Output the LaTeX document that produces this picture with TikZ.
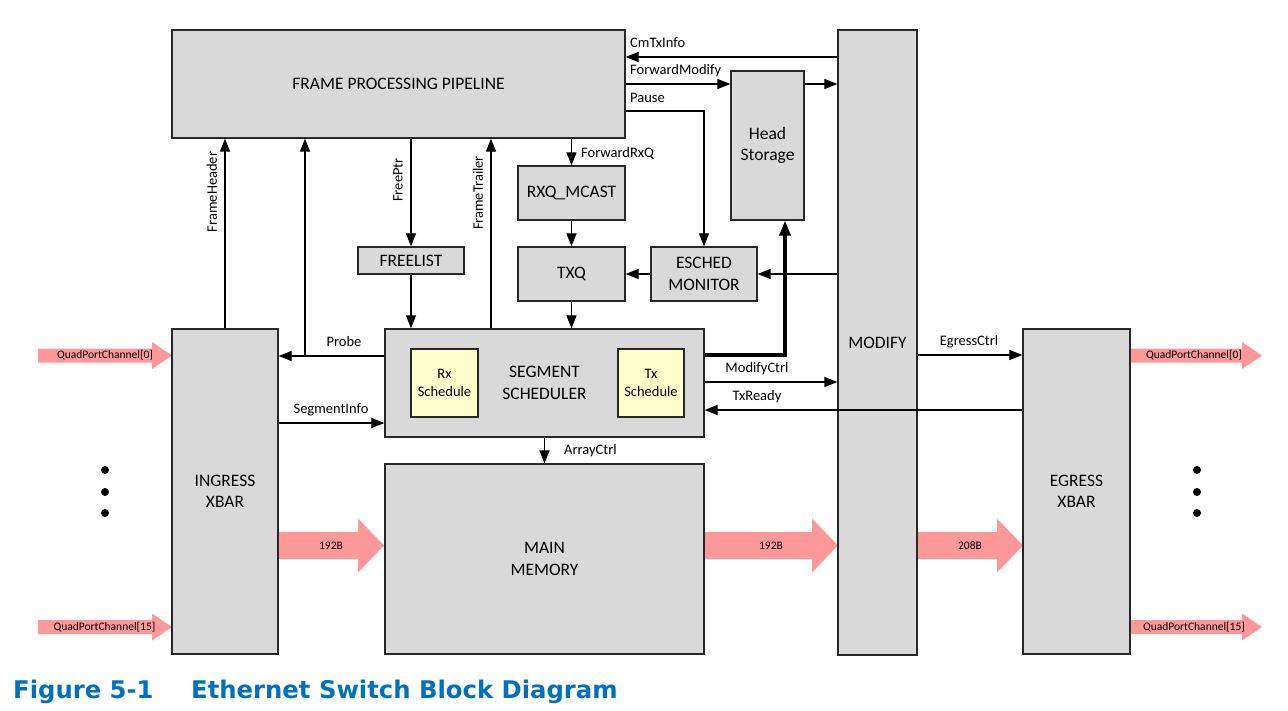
\documentclass[tikz,border=0pt]{standalone}
\usepackage{fontspec}
\setmainfont{Carlito}
\newfontfamily\capfont{DejaVu Sans}
\usetikzlibrary{arrows.meta}
\definecolor{boxgray}{RGB}{217,217,217}
\definecolor{boxyel}{RGB}{255,255,204}
\definecolor{pinkar}{RGB}{255,153,153}
\definecolor{capblue}{RGB}{0,112,192}
\definecolor{edgec}{RGB}{40,40,40}
\newcommand\fatarr[6]{% x start, head start, tip, y, body half, head half
  \fill[pinkar] (#1,#4-#5) -- (#2,#4-#5) -- (#2,#4-#6) -- (#3,#4) -- (#2,#4+#6) -- (#2,#4+#5) -- (#1,#4+#5) -- cycle;}
\begin{document}
\begin{tikzpicture}[x=1pt,y=-1pt,
  box/.style={draw=edgec, line width=1.2pt, fill=boxgray, inner sep=0pt, align=center, font=\fontsize{17.5}{21.5}\selectfont},
  ybox/.style={box, fill=boxyel, font=\fontsize{14.5}{17.5}\selectfont},
  conn/.style={line width=1.1pt, -{Triangle[length=13pt,width=10pt]}},
  thickconn/.style={line width=3.2pt, -{Triangle[length=15pt,width=11pt]}},
  lbl/.style={font=\fontsize{14.5}{17}\selectfont, inner sep=0pt},
  plbl/.style={font=\fontsize{11.5}{13}\selectfont, inner sep=0pt},
  dotn/.style={circle, fill=black, inner sep=0pt, minimum size=8pt}]
\useasboundingbox (0,0) rectangle (1288,710);

% pink data arrows
\fatarr{38}{152}{172}{355.5}{7}{13.5}
\fatarr{38}{152}{172}{627}{7}{13.5}
\fatarr{1130}{1242}{1262}{355.5}{7}{13.5}
\fatarr{1130}{1242}{1262}{627}{7}{13.5}
\fatarr{278}{358}{384}{545.5}{13.5}{27}
\fatarr{705}{812}{838}{545.5}{13.5}{27}
\fatarr{917}{997}{1023}{545.5}{13.5}{27}
\node[plbl] (qi0) at (105,355.5) {QuadPortChannel[0]};
\node[plbl] (qi15) at (104.5,627) {QuadPortChannel[15]};
\node[plbl] (qo0) at (1194,355.5) {QuadPortChannel[0]};
\node[plbl] (qo15) at (1194,627) {QuadPortChannel[15]};
\node[plbl] (b1) at (331,545.5) {192B};
\node[plbl] (b2) at (771,545.5) {192B};
\node[plbl] (b3) at (970,545.5) {208B};

% boxes
\node[box, minimum width=453pt, minimum height=108pt] (fpp) at (398.5,84) {FRAME PROCESSING PIPELINE};
\node[box, minimum width=79pt, minimum height=625pt] (modify) at (877.5,342.5) {MODIFY};
\node[box, minimum width=73pt, minimum height=149pt] (head) at (767.5,145.5) {Head\\Storage};
\node[box, minimum width=107pt, minimum height=54pt] (rxq) at (571.5,193) {RXQ\_MCAST};
\node[box, minimum width=107pt, minimum height=54pt] (txq) at (571.5,274) {TXQ};
\node[box, minimum width=106pt, minimum height=54pt] (esched) at (704,274) {ESCHED\\MONITOR};
\node[box, minimum width=106pt, minimum height=27pt] (freelist) at (411,260.5) {FREELIST};
\node[box, minimum width=106pt, minimum height=325pt] (ingress) at (225,491.5) {INGRESS\\XBAR};
\node[box, minimum width=319pt, minimum height=108pt] (ss) at (544.5,383) {SEGMENT\\SCHEDULER};
\node[ybox, minimum width=67pt, minimum height=68pt] (rx) at (444.5,383) {Rx\\Schedule};
\node[ybox, minimum width=66pt, minimum height=68pt] (tx) at (651,383) {Tx\\Schedule};
\node[box, minimum width=319pt, minimum height=190pt] (mm) at (544.5,559) {MAIN\\MEMORY};
\node[box, minimum width=107pt, minimum height=325pt] (egress) at (1076.5,491.5) {EGRESS\\XBAR};

% connectors
\draw[conn] (modify.west |- 0,57) -- (fpp.east |- 0,57);
\node[lbl, anchor=west] (lcm) at (630,43) {CmTxInfo};
\draw[conn] (fpp.east |- 0,84) -- (head.west |- 0,84);
\node[lbl, anchor=west] (lfm) at (630,71) {ForwardModify};
\draw[conn] (head.east |- 0,84) -- (modify.west |- 0,84);
\draw[conn] (fpp.east |- 0,111) -| (esched.north);
\node[lbl, anchor=west] (lpa) at (630,98) {Pause};
\draw[conn] (rxq.north |- fpp.south) -- (rxq.north);
\node[lbl, anchor=west] (lfr) at (581,153) {ForwardRxQ};
\draw[conn] (rxq.south) -- (txq.north);
\draw[conn] (txq.south) -- (txq.south |- ss.north);
\draw[conn] (esched.west) -- (txq.east);
\draw[conn] (modify.west |- esched.east) -- (esched.east);
\draw[conn] (freelist.north |- fpp.south) -- (freelist.north);
\node[lbl, rotate=90] (lfp) at (398,180) {FreePtr};
\draw[conn] (freelist.south) -- (freelist.south |- ss.north);
\draw[conn] (ss.north -| 491,0) -- (fpp.south -| 491,0);
\node[lbl, rotate=90] (lft) at (478,193) {FrameTrailer};
\draw[conn] (ingress.north) -- (ingress.north |- fpp.south);
\node[lbl, rotate=90] (lfh) at (212,192) {FrameHeader};
\draw[conn] (ss.west |- 0,356) -- (ingress.east |- 0,356);
\coordinate (pb) at (305,356);
\draw[conn] (pb) -- (pb |- fpp.south);
\node[lbl] (lpr) at (344,342) {Probe};
\draw[conn] (ingress.east |- 0,423) -- (ss.west |- 0,423);
\node[lbl] (lsi) at (331,410) {SegmentInfo};
\draw[conn] (ss.south) -- (mm.north);
\node[lbl, anchor=west] (lac) at (564,451) {ArrayCtrl};
\draw[thickconn] (ss.east |- 0,355) -| (head.south -| 785,0);
\draw[conn] (ss.east |- 0,382) -- (modify.west |- 0,382);
\node[lbl] (lmc) at (757,369) {ModifyCtrl};
\draw[conn] (egress.west |- 0,410) -- (ss.east |- 0,410);
\node[lbl] (ltr) at (757,397) {TxReady};
\draw[conn] (modify.east |- 0,355) -- (egress.west |- 0,355);
\node[lbl] (lec) at (969,342) {EgressCtrl};

% dots
\node[dotn] (dl1) at (105,470) {};
\node[dotn] (dl2) at (105,492) {};
\node[dotn] (dl3) at (105,513) {};
\node[dotn] (dr1) at (1197,470) {};
\node[dotn] (dr2) at (1197,492) {};
\node[dotn] (dr3) at (1197,513) {};

% caption
\node[anchor=base west, inner sep=0pt, text=capblue, font=\capfont\bfseries\fontsize{24.3}{28}\selectfont] (capnum) at (13,698) {Figure 5-1};
\node[anchor=base west, inner sep=0pt, text=capblue, font=\capfont\bfseries\fontsize{24.3}{28}\selectfont] (captxt) at (191,698) {Ethernet Switch Block Diagram};
\end{tikzpicture}
\end{document}
